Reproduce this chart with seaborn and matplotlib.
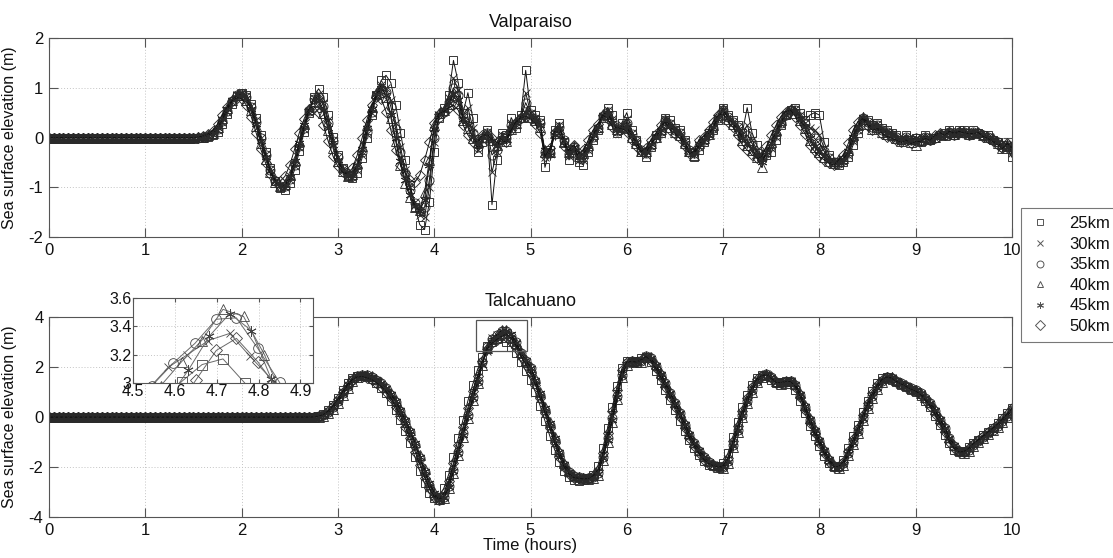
import numpy as np
import matplotlib
matplotlib.use("Agg")
import matplotlib.pyplot as plt
import seaborn as sns
from matplotlib.lines import Line2D
from matplotlib.patches import Rectangle

# ---------------- data ----------------
time_h = np.round(np.arange(0, 10.0001, 0.05), 2)   # 201 samples, 3-min step

series_labels = ["25km", "30km", "35km", "40km", "45km", "50km"]

# Valparaiso sea surface elevation (m)
val_25km = [
    0, 0, 0, 0, 0, 0, 0, 0, 0, 0,
    0, 0, 0, 0, 0, 0, 0, 0, 0, 0,
    0, 0, 0, 0, 0, 0, 0, 0, 0, 0,
    0, 0, 0, .02, .05, .12, .28, .48, .68, .84,
    .90, .86, .68, .40, .05, -.30, -.62, -.88, -1.02, -1.05,
    -.92, -.65, -.28, .12, .50, .82, .98, .82, .45, .02,
    -.35, -.62, -.78, -.82, -.72, -.42, .00, .45, .85, 1.15,
    1.25, 1.10, .65, .10, -.45, -.95, -1.40, -1.75, -1.85, -1.30,
    -.30, .40, .60, .85, 1.55, 1.10, .50, .90, .40, -.30,
    -.10, .15, -1.35, -.45, .10, .05, .40, .20, .45, 1.35,
    .55, .45, .35, -.60, -.25, .15, .30, -.10, -.45, -.25,
    -.50, -.55, -.30, -.05, .15, .40, .60, .45, .10, .30,
    .50, .15, -.05, -.30, -.40, -.20, .05, .10, .40, .35,
    .20, .15, -.05, -.30, -.40, -.25, -.10, .10, .15, .35,
    .60, .45, .35, .25, .10, .60, .10, -.15, -.40, -.35,
    -.30, -.05, .25, .45, .55, .60, .50, .35, .45, .50,
    .45, -.10, -.35, -.50, -.55, -.50, -.40, -.15, .10, .35,
    .35, .25, .30, .20, .15, .10, .05, -.05, .05, -.05,
    .00, -.10, .05, -.05, .00, .05, .10, .15, .05, .15,
    .15, .10, .15, .10, .05, .05, -.05, -.10, -.15, -.20,
    -.40]
val_30km = [
    0, 0, 0, 0, 0, 0, 0, 0, 0, 0,
    0, 0, 0, 0, 0, 0, 0, 0, 0, 0,
    0, 0, 0, 0, 0, 0, 0, 0, 0, 0,
    0, 0, .01, .03, .07, .16, .32, .52, .72, .86,
    .90, .83, .64, .35, .00, -.34, -.64, -.88, -1.00, -1.00,
    -.86, -.58, -.20, .18, .52, .80, .88, .70, .35, -.05,
    -.40, -.64, -.78, -.80, -.65, -.35, .08, .50, .85, 1.05,
    1.00, .75, .30, -.20, -.65, -1.00, -1.30, -1.55, -1.60, -1.00,
    -.10, .45, .55, .80, 1.20, .95, .45, .60, .20, -.25,
    -.05, .12, -.70, -.30, .05, .00, .30, .25, .40, .90,
    .50, .40, .32, -.40, -.30, .10, .25, -.08, -.38, -.22,
    -.45, -.45, -.25, .00, .18, .42, .55, .38, .12, .25,
    .38, .10, -.08, -.28, -.35, -.18, .02, .12, .38, .30,
    .18, .12, -.08, -.28, -.35, -.20, -.08, .08, .18, .38,
    .58, .42, .32, .22, .05, .25, -.05, -.25, -.42, -.32,
    -.22, .02, .28, .45, .55, .58, .45, .30, .20, .15,
    .05, -.22, -.40, -.50, -.52, -.48, -.35, -.08, .15, .38,
    .32, .22, .28, .18, .12, .08, .02, -.05, .02, -.05,
    .00, -.08, .02, -.05, .00, .05, .08, .12, .05, .12,
    .12, .08, .12, .10, .05, .02, -.05, -.10, -.18, -.18,
    -.32]
val_35km = [
    0, 0, 0, 0, 0, 0, 0, 0, 0, 0,
    0, 0, 0, 0, 0, 0, 0, 0, 0, 0,
    0, 0, 0, 0, 0, 0, 0, 0, 0, 0,
    0, 0, .01, .03, .08, .18, .34, .54, .73, .86,
    .88, .81, .62, .32, -.02, -.36, -.65, -.87, -.98, -.98,
    -.84, -.55, -.18, .20, .53, .78, .82, .64, .30, -.08,
    -.40, -.63, -.76, -.78, -.62, -.30, .12, .52, .84, .98,
    .92, .62, .18, -.30, -.72, -1.05, -1.32, -1.48, -1.40, -.85,
    .00, .42, .52, .72, 1.00, .85, .42, .40, .10, -.20,
    -.02, .10, -.35, -.25, .02, -.02, .25, .28, .40, .70,
    .48, .38, .30, -.30, -.32, .08, .22, -.06, -.34, -.20,
    -.42, -.40, -.22, .02, .20, .44, .52, .34, .14, .22,
    .30, .08, -.08, -.26, -.32, -.16, .00, .14, .36, .28,
    .16, .10, -.10, -.26, -.32, -.18, -.06, .06, .20, .40,
    .56, .41, .31, .21, .02, .05, -.12, -.30, -.44, -.32,
    -.18, .06, .29, .45, .55, .56, .42, .28, .10, -.02,
    -.12, -.28, -.42, -.50, -.51, -.46, -.32, -.04, .18, .40,
    .31, .21, .26, .16, .11, .06, .01, -.05, .01, -.05,
    .00, -.06, .01, -.05, .00, .05, .06, .11, .05, .11,
    .11, .06, .11, .10, .05, .01, -.05, -.10, -.19, -.16,
    -.28]
val_40km = [
    0, 0, 0, 0, 0, 0, 0, 0, 0, 0,
    0, 0, 0, 0, 0, 0, 0, 0, 0, 0,
    0, 0, 0, 0, 0, 0, 0, 0, 0, 0,
    0, .01, .02, .05, .10, .22, .40, .60, .76, .86,
    .86, .76, .55, .24, -.12, -.44, -.70, -.90, -.98, -.94,
    -.76, -.45, -.08, .28, .58, .74, .72, .50, .15, -.22,
    -.48, -.68, -.78, -.74, -.52, -.18, .25, .62, .90, 1.05,
    .82, .40, -.08, -.55, -.92, -1.20, -1.40, -1.45, -1.10, -.45,
    .25, .50, .55, .68, .85, .70, .35, .20, .00, -.10,
    .02, .08, -.05, -.15, .00, -.08, .18, .30, .42, .50,
    .42, .35, .22, -.30, -.30, .10, .18, -.10, -.30, -.18,
    -.38, -.32, -.15, .08, .22, .48, .48, .28, .18, .22,
    .20, .02, -.12, -.28, -.28, -.12, .02, .18, .35, .22,
    .12, .05, -.12, -.28, -.35, -.12, -.02, .08, .25, .45,
    .58, .38, .28, .15, -.05, -.15, -.25, -.40, -.60, -.28,
    -.10, .15, .35, .50, .58, .50, .35, .20, -.05, -.20,
    -.30, -.40, -.48, -.52, -.48, -.42, -.25, .05, .25, .42,
    .28, .18, .22, .12, .08, .05, .00, -.08, -.02, -.10,
    -.15, -.05, .02, -.02, .02, .08, .05, .12, .08, .12,
    .12, .08, .10, .12, .05, .02, -.02, -.12, -.22, -.15,
    -.22]
val_45km = [
    0, 0, 0, 0, 0, 0, 0, 0, 0, 0,
    0, 0, 0, 0, 0, 0, 0, 0, 0, 0,
    0, 0, 0, 0, 0, 0, 0, 0, 0, 0,
    0, 0, .01, .04, .09, .20, .37, .57, .75, .87,
    .88, .79, .58, .28, -.08, -.40, -.68, -.88, -.98, -.96,
    -.79, -.48, -.12, .25, .56, .76, .76, .55, .20, -.16,
    -.45, -.66, -.77, -.76, -.56, -.24, .20, .58, .88, 1.00,
    .85, .45, -.02, -.48, -.86, -1.15, -1.38, -1.48, -1.25, -.55,
    .18, .48, .55, .70, .88, .76, .38, .26, .02, -.12,
    .02, .10, -.08, -.18, .00, -.06, .20, .30, .40, .52,
    .44, .35, .26, -.25, -.35, .06, .20, -.06, -.30, -.20,
    -.40, -.34, -.18, .06, .22, .46, .50, .30, .15, .20,
    .24, .04, -.10, -.26, -.30, -.14, .02, .16, .36, .24,
    .14, .08, -.12, -.26, -.32, -.14, -.04, .06, .22, .42,
    .56, .40, .30, .18, -.02, -.12, -.22, -.38, -.50, -.30,
    -.12, .12, .32, .46, .56, .54, .38, .22, -.02, -.18,
    -.28, -.38, -.46, -.51, -.50, -.44, -.28, .02, .22, .42,
    .29, .19, .24, .14, .09, .05, .00, -.06, .00, -.06,
    -.02, -.05, .00, -.04, .01, .06, .05, .10, .06, .10,
    .10, .06, .10, .10, .05, .00, -.04, -.10, -.20, -.14,
    -.24]
val_50km = [
    0, 0, 0, 0, 0, 0, 0, 0, 0, 0,
    0, 0, 0, 0, 0, 0, 0, 0, 0, 0,
    0, 0, 0, 0, 0, 0, 0, 0, 0, 0,
    0, .01, .03, .07, .14, .27, .45, .62, .74, .80,
    .78, .65, .42, .10, -.24, -.52, -.74, -.86, -.88, -.78,
    -.56, -.24, .10, .38, .58, .62, .50, .25, -.08, -.38,
    -.58, -.70, -.72, -.62, -.36, -.02, .35, .65, .82, .78,
    .52, .15, -.25, -.55, -.72, -.85, -.90, -.75, -.45, -.10,
    .30, .48, .52, .60, .65, .55, .25, .05, -.10, -.08,
    .05, .05, -.02, -.10, -.05, -.10, .15, .32, .40, .42,
    .38, .28, .10, -.38, -.22, .12, .10, -.18, -.25, -.15,
    -.32, -.25, -.05, .15, .28, .45, .38, .22, .20, .18,
    .12, -.05, -.18, -.28, -.22, -.05, .08, .25, .30, .15,
    .08, -.02, -.18, -.32, -.28, -.05, .02, .15, .32, .45,
    .48, .32, .22, .05, -.15, -.25, -.35, -.42, -.38, -.18,
    .05, .25, .42, .52, .55, .42, .25, .08, -.15, -.28,
    -.38, -.45, -.52, -.55, -.45, -.35, -.12, .15, .32, .38,
    .24, .15, .18, .08, .02, -.02, -.05, -.10, -.05, -.12,
    -.08, -.08, -.02, -.05, .05, .10, .05, .12, .10, .12,
    .10, .08, .08, .10, .02, -.02, -.08, -.15, -.22, -.12,
    -.20]

# Talcahuano sea surface elevation (m)
tal_25km = [
    0, 0, 0, 0, 0, 0, 0, 0, 0, 0,
    0, 0, 0, 0, 0, 0, 0, 0, 0, 0,
    0, 0, 0, 0, 0, 0, 0, 0, 0, 0,
    0, 0, 0, 0, 0, 0, 0, 0, 0, 0,
    0, 0, 0, 0, 0, 0, 0, 0, 0, 0,
    0, 0, 0, 0, .01, .02, .05, .12, .28, .50,
    .78, 1.08, 1.35, 1.55, 1.65, 1.66, 1.62, 1.52, 1.38, 1.18,
    .95, .65, .30, -.10, -.55, -1.05, -1.60, -2.15, -2.65, -3.05,
    -3.25, -3.20, -2.85, -2.30, -1.60, -.85, -.10, .65, 1.30, 1.90,
    2.40, 2.85, 3.01, 3.13, 3.17, 3.00, 2.80, 2.55, 2.20, 1.85,
    1.50, 1.00, .45, -.15, -.75, -1.30, -1.80, -2.15, -2.40, -2.50,
    -2.55, -2.50, -2.45, -2.30, -1.95, -1.25, -.45, .40, 1.25, 1.95,
    2.25, 2.20, 2.25, 2.35, 2.40, 2.20, 1.85, 1.50, 1.10, .70,
    .30, -.15, -.55, -.90, -1.25, -1.50, -1.75, -1.90, -1.95, -1.95,
    -1.85, -1.45, -.80, -.20, .40, .90, 1.30, 1.55, 1.70, 1.65,
    1.50, 1.35, 1.40, 1.45, 1.40, 1.10, .65, .15, -.35, -.75,
    -1.15, -1.55, -1.85, -2.00, -1.95, -1.70, -1.25, -.75, -.30, .20,
    .65, 1.05, 1.35, 1.55, 1.62, 1.50, 1.40, 1.30, 1.20, 1.10,
    1.00, .85, .65, .40, .05, -.30, -.70, -1.05, -1.30, -1.40,
    -1.35, -1.20, -1.05, -.90, -.72, -.58, -.42, -.25, -.05, .15,
    .35]
tal_30km = [
    0, 0, 0, 0, 0, 0, 0, 0, 0, 0,
    0, 0, 0, 0, 0, 0, 0, 0, 0, 0,
    0, 0, 0, 0, 0, 0, 0, 0, 0, 0,
    0, 0, 0, 0, 0, 0, 0, 0, 0, 0,
    0, 0, 0, 0, 0, 0, 0, 0, 0, 0,
    0, 0, 0, 0, 0, .01, .04, .10, .23, .44,
    .70, 1.00, 1.30, 1.52, 1.66, 1.70, 1.66, 1.58, 1.46, 1.30,
    1.08, .82, .50, .15, -.25, -.72, -1.25, -1.80, -2.35, -2.85,
    -3.20, -3.32, -3.15, -2.65, -1.95, -1.25, -.50, .25, .95, 1.60,
    2.15, 2.65, 3.15, 3.28, 3.34, 3.32, 3.15, 2.95, 2.45, 2.15,
    1.85, 1.35, .78, .18, -.42, -1.02, -1.55, -1.98, -2.25, -2.38,
    -2.42, -2.45, -2.42, -2.36, -2.18, -1.50, -.72, .10, .95, 1.78,
    2.18, 2.24, 2.20, 2.28, 2.45, 2.30, 2.00, 1.65, 1.28, .88,
    .48, .08, -.36, -.76, -1.10, -1.40, -1.65, -1.82, -1.92, -1.99,
    -1.98, -1.68, -1.02, -.42, .18, .72, 1.15, 1.48, 1.66, 1.72,
    1.58, 1.40, 1.36, 1.42, 1.44, 1.26, .84, .34, -.16, -.60,
    -1.00, -1.40, -1.74, -1.97, -2.00, -1.82, -1.40, -.94, -.48, .02,
    .50, .90, 1.24, 1.48, 1.61, 1.57, 1.44, 1.34, 1.24, 1.14,
    1.06, .93, .72, .50, .20, -.16, -.52, -.90, -1.18, -1.37,
    -1.40, -1.28, -1.08, -.93, -.78, -.63, -.48, -.32, -.12, .08,
    .32]
tal_35km = [
    0, 0, 0, 0, 0, 0, 0, 0, 0, 0,
    0, 0, 0, 0, 0, 0, 0, 0, 0, 0,
    0, 0, 0, 0, 0, 0, 0, 0, 0, 0,
    0, 0, 0, 0, 0, 0, 0, 0, 0, 0,
    0, 0, 0, 0, 0, 0, 0, 0, 0, 0,
    0, 0, 0, 0, 0, .01, .03, .08, .20, .40,
    .65, .95, 1.25, 1.50, 1.65, 1.70, 1.68, 1.60, 1.50, 1.35,
    1.15, .90, .60, .25, -.15, -.60, -1.10, -1.65, -2.20, -2.70,
    -3.10, -3.30, -3.20, -2.75, -2.10, -1.40, -.65, .10, .80, 1.45,
    2.20, 2.80, 3.14, 3.28, 3.45, 3.46, 3.25, 3.00, 2.55, 2.25,
    1.95, 1.45, .90, .30, -.30, -.90, -1.45, -1.90, -2.20, -2.35,
    -2.40, -2.45, -2.45, -2.40, -2.25, -1.60, -.85, -.05, .85, 1.70,
    2.15, 2.25, 2.20, 2.25, 2.45, 2.35, 2.05, 1.70, 1.35, .95,
    .55, .15, -.30, -.70, -1.05, -1.35, -1.60, -1.80, -1.90, -1.98,
    -2.00, -1.75, -1.10, -.50, .10, .65, 1.10, 1.45, 1.65, 1.72,
    1.60, 1.40, 1.35, 1.40, 1.45, 1.30, .90, .40, -.10, -.55,
    -.95, -1.35, -1.70, -1.95, -2.00, -1.85, -1.45, -1.00, -.55, -.05,
    .45, .85, 1.20, 1.45, 1.60, 1.58, 1.45, 1.35, 1.25, 1.15,
    1.08, .95, .75, .55, .25, -.10, -.45, -.85, -1.15, -1.35,
    -1.40, -1.30, -1.10, -.95, -.80, -.65, -.50, -.35, -.15, .05,
    .30]
tal_40km = [
    0, 0, 0, 0, 0, 0, 0, 0, 0, 0,
    0, 0, 0, 0, 0, 0, 0, 0, 0, 0,
    0, 0, 0, 0, 0, 0, 0, 0, 0, 0,
    0, 0, 0, 0, 0, 0, 0, 0, 0, 0,
    0, 0, 0, 0, 0, 0, 0, 0, 0, 0,
    0, 0, 0, 0, 0, 0, .02, .06, .16, .34,
    .58, .88, 1.18, 1.45, 1.62, 1.70, 1.70, 1.63, 1.53, 1.40,
    1.22, .98, .68, .34, -.06, -.50, -.98, -1.52, -2.08, -2.58,
    -3.00, -3.28, -3.25, -2.85, -2.22, -1.52, -.78, -.02, .70, 1.35,
    2.10, 2.75, 3.12, 3.30, 3.48, 3.48, 3.22, 2.98, 2.60, 2.30,
    2.02, 1.55, 1.00, .42, -.18, -.78, -1.35, -1.82, -2.15, -2.32,
    -2.38, -2.44, -2.46, -2.42, -2.30, -1.70, -.98, -.18, .72, 1.60,
    2.10, 2.24, 2.20, 2.22, 2.42, 2.40, 2.12, 1.78, 1.42, 1.02,
    .62, .22, -.22, -.62, -.98, -1.30, -1.55, -1.76, -1.88, -1.98,
    -2.02, -1.82, -1.20, -.60, .00, .56, 1.02, 1.40, 1.62, 1.72,
    1.64, 1.44, 1.34, 1.38, 1.46, 1.34, .98, .48, -.02, -.48,
    -.88, -1.28, -1.64, -1.92, -2.02, -1.90, -1.52, -1.08, -.62, -.12,
    .38, .78, 1.14, 1.42, 1.58, 1.60, 1.48, 1.37, 1.27, 1.17,
    1.10, .98, .80, .60, .32, -.02, -.38, -.78, -1.10, -1.32,
    -1.42, -1.34, -1.14, -.98, -.83, -.68, -.53, -.38, -.18, .02,
    .28]
tal_45km = [
    0, 0, 0, 0, 0, 0, 0, 0, 0, 0,
    0, 0, 0, 0, 0, 0, 0, 0, 0, 0,
    0, 0, 0, 0, 0, 0, 0, 0, 0, 0,
    0, 0, 0, 0, 0, 0, 0, 0, 0, 0,
    0, 0, 0, 0, 0, 0, 0, 0, 0, 0,
    0, 0, 0, 0, 0, .01, .03, .07, .18, .37,
    .62, .92, 1.22, 1.48, 1.64, 1.70, 1.69, 1.61, 1.51, 1.37,
    1.18, .93, .63, .28, -.12, -.56, -1.05, -1.60, -2.15, -2.65,
    -3.05, -3.30, -3.22, -2.80, -2.15, -1.45, -.70, .05, .75, 1.40,
    2.10, 2.70, 3.00, 3.22, 3.45, 3.46, 3.32, 2.98, 2.58, 2.28,
    1.98, 1.50, .95, .35, -.25, -.85, -1.40, -1.86, -2.18, -2.34,
    -2.40, -2.45, -2.45, -2.41, -2.28, -1.65, -.90, -.10, .80, 1.65,
    2.12, 2.25, 2.20, 2.24, 2.44, 2.37, 2.08, 1.74, 1.38, .98,
    .58, .18, -.26, -.66, -1.02, -1.32, -1.58, -1.78, -1.89, -1.98,
    -2.01, -1.78, -1.15, -.55, .05, .60, 1.06, 1.42, 1.64, 1.72,
    1.62, 1.42, 1.35, 1.39, 1.46, 1.32, .94, .44, -.06, -.52,
    -.92, -1.32, -1.67, -1.94, -2.01, -1.88, -1.48, -1.04, -.58, -.08,
    .42, .82, 1.17, 1.44, 1.59, 1.59, 1.46, 1.36, 1.26, 1.16,
    1.09, .96, .78, .58, .28, -.06, -.42, -.82, -1.12, -1.34,
    -1.41, -1.32, -1.12, -.96, -.82, -.66, -.52, -.36, -.16, .04,
    .30]
tal_50km = [
    0, 0, 0, 0, 0, 0, 0, 0, 0, 0,
    0, 0, 0, 0, 0, 0, 0, 0, 0, 0,
    0, 0, 0, 0, 0, 0, 0, 0, 0, 0,
    0, 0, 0, 0, 0, 0, 0, 0, 0, 0,
    0, 0, 0, 0, 0, 0, 0, 0, 0, 0,
    0, 0, 0, 0, 0, .01, .04, .10, .24, .46,
    .72, 1.02, 1.30, 1.50, 1.60, 1.62, 1.58, 1.50, 1.38, 1.22,
    1.02, .75, .42, .05, -.38, -.85, -1.38, -1.90, -2.42, -2.85,
    -3.18, -3.28, -3.05, -2.55, -1.85, -1.12, -.38, .38, 1.05, 1.65,
    2.25, 2.72, 2.95, 3.10, 3.23, 3.32, 3.15, 2.85, 2.45, 2.10,
    1.78, 1.30, .75, .15, -.45, -1.05, -1.58, -2.00, -2.28, -2.42,
    -2.45, -2.48, -2.46, -2.35, -2.10, -1.42, -.62, .25, 1.10, 1.88,
    2.20, 2.22, 2.20, 2.30, 2.42, 2.25, 1.95, 1.60, 1.22, .80,
    .40, .00, -.42, -.82, -1.15, -1.45, -1.70, -1.86, -1.95, -2.00,
    -1.95, -1.62, -.95, -.35, .25, .78, 1.20, 1.52, 1.66, 1.68,
    1.55, 1.38, 1.38, 1.43, 1.42, 1.22, .80, .28, -.22, -.65,
    -1.05, -1.45, -1.78, -1.98, -1.98, -1.78, -1.35, -.88, -.42, .08,
    .55, .95, 1.28, 1.50, 1.60, 1.55, 1.42, 1.32, 1.22, 1.12,
    1.04, .90, .68, .45, .12, -.22, -.60, -.98, -1.25, -1.40,
    -1.38, -1.25, -1.06, -.91, -.76, -.60, -.45, -.28, -.08, .12,
    .35]

# Inset (zoom on Talcahuano peak): times (h) and elevations (m)
inset_t_25km = [4.565, 4.616, 4.665, 4.715, 4.767, 4.815]
inset_v_25km = [2.85, 3.01, 3.13, 3.17, 3.00, 2.72]
inset_t_30km = [4.534, 4.584, 4.630, 4.680, 4.731, 4.779, 4.830, 4.880]
inset_v_30km = [2.95, 3.11, 3.20, 3.30, 3.35, 3.19, 3.03, 2.80]
inset_t_35km = [4.545, 4.596, 4.648, 4.699, 4.747, 4.798, 4.850, 4.900]
inset_v_35km = [2.98, 3.14, 3.28, 3.45, 3.46, 3.245, 3.005, 2.70]
inset_t_40km = [4.566, 4.616, 4.664, 4.715, 4.764, 4.814, 4.864]
inset_v_40km = [2.98, 3.15, 3.30, 3.52, 3.47, 3.20, 2.85]
inset_t_45km = [4.582, 4.632, 4.682, 4.731, 4.783, 4.830, 4.880]
inset_v_45km = [2.88, 3.09, 3.33, 3.49, 3.37, 3.03, 2.75]
inset_t_50km = [4.600, 4.650, 4.699, 4.747, 4.798, 4.848]
inset_v_50km = [2.80, 3.02, 3.23, 3.315, 3.15, 2.95]

val_series = [val_25km, val_30km, val_35km, val_40km, val_45km, val_50km]
tal_series = [tal_25km, tal_30km, tal_35km, tal_40km, tal_45km, tal_50km]
inset_t = [inset_t_25km, inset_t_30km, inset_t_35km, inset_t_40km, inset_t_45km, inset_t_50km]
inset_v = [inset_v_25km, inset_v_30km, inset_v_35km, inset_v_40km, inset_v_45km, inset_v_50km]

for name, arr in zip(series_labels * 2, val_series + tal_series):
    if len(arr) != len(time_h):
        raise ValueError(f"{name}: {len(arr)} values, expected {len(time_h)}")

# ---------------- style ----------------
markers = ["s", "x", "o", "^", (6, 2, 0), "D"]
marker_sizes = [6, 5.5, 6.5, 6.5, 7, 5.5]
line_color = "#111111"
marker_color = "#2a2a2a"
spine_color = "#555555"

sns.set_theme(style="white")
plt.rcParams["font.family"] = ["Liberation Sans", "DejaVu Sans"]
plt.rcParams["axes.unicode_minus"] = False

W, H = 1113, 558
fig = plt.figure(figsize=(W / 100, H / 100), dpi=100)
ax1 = fig.add_axes([49 / W, 1 - 237 / H, 963 / W, 199 / H])
ax2 = fig.add_axes([49 / W, 1 - 517 / H, 963 / W, 200 / H])


def draw_series(ax, series_list):
    for vals, mk, ms in zip(series_list, markers, marker_sizes):
        sns.lineplot(x=time_h, y=vals, ax=ax, color=line_color, linewidth=0.7,
                     marker=mk, markersize=ms, markerfacecolor="none",
                     markeredgecolor=marker_color, markeredgewidth=0.65,
                     legend=False, errorbar=None, sort=False)


draw_series(ax1, val_series)
draw_series(ax2, tal_series)


def style_axes(ax, fs=11.5, length=6.5):
    for s in ax.spines.values():
        s.set_visible(True)
        s.set_color(spine_color)
        s.set_linewidth(0.8)
    ax.tick_params(direction="in", length=length, width=0.8, color=spine_color,
                   top=True, right=True, bottom=True, left=True,
                   labelsize=fs, labelcolor="#111111", pad=4)
    ax.grid(True, linestyle=(0, (1, 2)), color="#c4c4c4", linewidth=0.7)
    ax.set_axisbelow(True)


for ax in (ax1, ax2):
    ax.set_xlim(0, 10)
    ax.set_xticks(range(0, 11))
    style_axes(ax, fs=12)
    ax.set_ylabel("Sea surface elevation (m)", fontsize=11.5, color="#111111")
    ax.yaxis.set_label_coords(-0.033, 0.5)
    ax.set_xlabel("")

ax1.set_ylim(-2, 2)
ax1.set_yticks([-2, -1, 0, 1, 2])
ax2.set_ylim(-4, 4)
ax2.set_yticks([-4, -2, 0, 2, 4])

ax1.set_title("Valparaiso", fontsize=13, pad=8, color="#111111")
ax2.set_title("Talcahuano", fontsize=13, pad=8, color="#111111")
ax2.set_xlabel("Time (hours)", fontsize=12, color="#111111", labelpad=0)

# zoom box on the Talcahuano peak
ax2.add_patch(Rectangle((4.43, 2.64), 0.53, 1.24, fill=False,
                        edgecolor="#555555", linewidth=0.9, zorder=6))

# inset
axin = fig.add_axes([133 / W, 1 - 383 / H, 180 / W, 85 / H], zorder=10)
axin.set_facecolor("white")
for tt, vv, mk, ms in zip(inset_t, inset_v, markers, marker_sizes):
    sns.lineplot(x=tt, y=vv, ax=axin, color="#6a6a6a", linewidth=0.7,
                 marker=mk, markersize=ms + 0.5, markerfacecolor="none",
                 markeredgecolor="#444444", markeredgewidth=0.6,
                 legend=False, errorbar=None, sort=False)
axin.set_xlim(4.5, 4.93)
axin.set_ylim(3, 3.6)
axin.set_xticks([4.5, 4.6, 4.7, 4.8, 4.9])
axin.set_xticklabels(["4.5", "4.6", "4.7", "4.8", "4.9"])
axin.set_yticks([3, 3.2, 3.4, 3.6])
axin.set_yticklabels(["3", "3.2", "3.4", "3.6"])
style_axes(axin, fs=11.5, length=3)
axin.tick_params(pad=1)
axin.set_xlabel("")
axin.set_ylabel("")

# legend (markers only)
handles = [Line2D([], [], linestyle="none", marker=mk, markersize=5,
                  markerfacecolor="none", markeredgecolor="#555555",
                  markeredgewidth=0.7) for mk in markers]
leg = fig.legend(handles, series_labels, loc="upper left",
                 bbox_to_anchor=(1021 / W, 1 - 208 / H), frameon=True,
                 fancybox=False, edgecolor=spine_color, fontsize=12,
                 borderpad=0.5, labelspacing=0.33, handlelength=1.3,
                 handletextpad=1.1, borderaxespad=0)
leg.get_frame().set_linewidth(0.8)
for txt in leg.get_texts():
    txt.set_color("#111111")

fig.savefig("out.png", dpi=100, facecolor="white")
